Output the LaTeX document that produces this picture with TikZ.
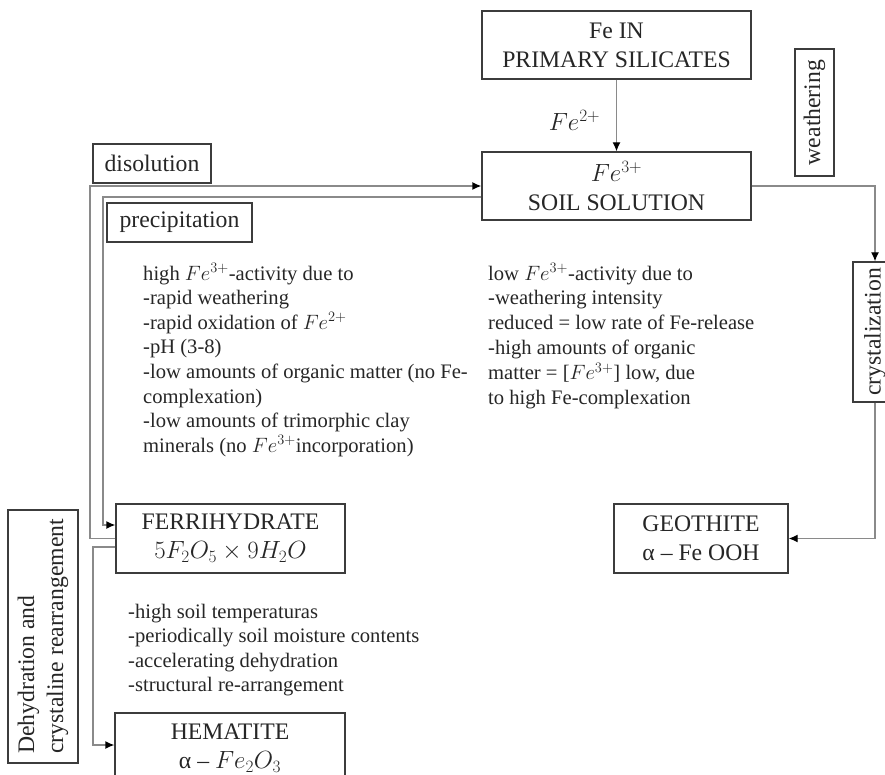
\documentclass[tikz,border=0pt]{standalone}
\usepackage{fontspec}
\setmainfont{Liberation Serif}
\usetikzlibrary{arrows.meta}
\definecolor{boxline}{HTML}{3C3C3C}
\definecolor{wiregray}{HTML}{8A8A8A}
\definecolor{ink}{HTML}{262626}
\tikzset{
  box/.style={draw=boxline, line width=1.3pt, text=ink, align=center, inner sep=0pt,
    font=\fontsize{23.7}{29}\selectfont},
  body/.style={anchor=base west, inner sep=0pt, text=ink, font=\fontsize{20.6}{24.6}\selectfont},
  wire/.style={draw=wiregray, line width=1.3pt},
  flow/.style={wire, -{Latex[length=9pt,width=8pt,color=black]}}
}
\begin{document}
\begin{tikzpicture}[x=1pt,y=-1pt]
\useasboundingbox (0,0) rectangle (885,775);
\fill[white] (0,0) rectangle (885,775);

% main boxes
\node[box, minimum width=269pt, minimum height=68pt] (prim) at (616.5,45) {Fe IN\\PRIMARY SILICATES};
\node[box, minimum width=269pt, minimum height=68pt] (soil) at (616.5,186) {$Fe^{3+}$\\SOIL SOLUTION};
\node[box, minimum width=229pt, minimum height=69pt] (fer) at (230.5,538.5) {FERRIHYDRATE\\$5F_2O_5\times 9H_2O$};
\node[box, minimum width=174pt, minimum height=69pt] (geo) at (701,538.5) {GEOTHITE\\α – Fe OOH};
\node[box, minimum width=230pt, minimum height=70pt] (hem) at (230,748) {HEMATITE\\α – $Fe_2O_3$};

% process labels
\node[text=ink, inner sep=0pt, font=\fontsize{23.7}{29}\selectfont] (fe2) at (574.5,120) {$Fe^{2+}$};
\node[box, minimum width=118pt, minimum height=39pt] (dis) at (152,163.5) {disolution};
\node[box, minimum width=145pt, minimum height=39pt] (pre) at (179.5,222.5) {precipitation};
\node[box, rotate=90, minimum width=127pt, minimum height=39pt] (wea) at (814.5,112.5) {weathering};
\node[box, rotate=90, minimum width=140pt, minimum height=44pt] (cry) at (875,332) {crystalization};
\node[box, rotate=90, align=left, minimum width=253pt, minimum height=70pt] (deh) at (43,636.5)
  {Dehydration and\\crystaline rearrangement};

% connectors
\coordinate (dj) at (90,538.5);
\coordinate (hk) at (93,547);
\coordinate (hj) at (93,745);
\coordinate (pc) at (103,197);
\coordinate (pe) at (103,525);
\draw[flow] (prim) -- (soil);
\draw[flow] (soil.east) -| (cry.east);
\draw[flow] (cry.west) |- (geo.east);
\draw[flow] (fer.west) -- (dj) |- (soil.west);
\draw[flow] (fer.west |- hk) -- (hk) -- (hj) -- (hem.west |- hj);
\draw[flow] (soil.west |- pc) -- (pc) -- (pe) -- (fer.west |- pe);

% conditions for high activity
\foreach \t [count=\i] in {{high $Fe^{3+}$-activity due to},{-rapid weathering},
  {-rapid oxidation of $Fe^{2+}$},{-pH (3-8)},{-low amounts of organic matter (no Fe-},
  {complexation)},{-low amounts of trimorphic clay},{minerals (no $Fe^{3+}$incorporation)}}
  \node[body] (hi\i) at (143,{280+24.6*(\i-1)}) {\t};

% conditions for low activity
\foreach \t [count=\i] in {{low $Fe^{3+}$-activity due to},{-weathering intensity},
  {reduced = low rate of Fe-release},{-high amounts of organic},
  {matter = [$Fe^{3+}$] low, due},{to high Fe-complexation}}
  \node[body] (lo\i) at (488,{280+24.9*(\i-1)}) {\t};

% conditions for dehydration
\foreach \t [count=\i] in {{-high soil temperaturas},{-periodically soil moisture contents},
  {-accelerating dehydration},{-structural re-arrangement}}
  \node[body] (dh\i) at (128,{618+24.6*(\i-1)}) {\t};
\end{tikzpicture}
\end{document}
